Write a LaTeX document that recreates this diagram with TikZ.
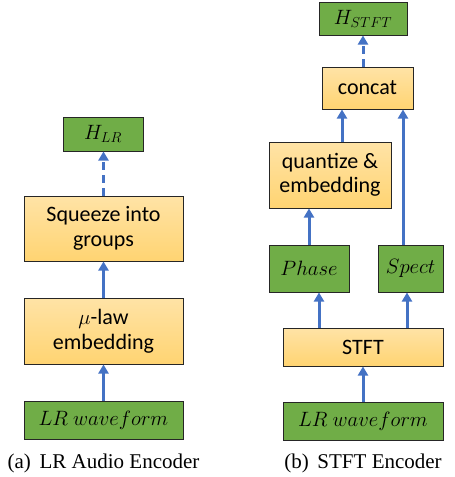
\documentclass[tikz,border=0pt]{standalone}
\usepackage{fontspec}
\setmainfont{Carlito}
\newfontfamily\capfont{Liberation Serif}
\usetikzlibrary{arrows.meta}
\definecolor{grn}{HTML}{70AD47}
\definecolor{orT}{HTML}{FFE3A6}
\definecolor{orB}{HTML}{FFD472}
\definecolor{arr}{HTML}{4472C4}
\definecolor{bord}{HTML}{262626}
\tikzset{
  gbox/.style={draw=bord, line width=1pt, fill=grn, inner sep=0pt, align=center, font=\fontsize{22.5}{25}\selectfont},
  obox/.style={draw=bord, line width=1pt, top color=orT, bottom color=orB, inner sep=0pt, align=center, font=\fontsize{22}{24.5}\selectfont},
  flow/.style={draw=arr, line width=3pt, -{Triangle[width=10pt,length=9pt]}},
  dflow/.style={flow, dash pattern=on 8pt off 5pt},
  captext/.style={font=\capfont\fontsize{21}{23}\selectfont}
}
\begin{document}
\begin{tikzpicture}[x=1pt,y=-1pt]
\useasboundingbox (0,0) rectangle (455,477);
% left
\node[gbox, minimum width=80pt, minimum height=34pt] (hlr) at (103,134) {$H_{LR}$};
\node[obox, minimum width=159pt, minimum height=65pt] (sq) at (103.5,228.5) {Squeeze into\\groups};
\node[obox, minimum width=159pt, minimum height=66pt] (mu) at (103.5,331) {$\mu$-law\\embedding};
\node[gbox, minimum width=159pt, minimum height=38pt] (lrwa) at (103.5,420) {$LR\ waveform$};
\node[captext] (capa) at (103.5,463) {(a)\ \,LR Audio Encoder};
\draw[flow] (lrwa.north) -- (mu.south);
\draw[flow] (mu.north) -- (sq.south);
\draw[dflow] (sq.north) -- (sq.north |- hlr.south);
% right
\node[gbox, minimum width=88pt, minimum height=33pt] (hst) at (363,18.5) {$H_{STFT}$};
\node[obox, minimum width=91pt, minimum height=42pt] (cc) at (367.5,88) {concat};
\node[obox, minimum width=122pt, minimum height=66pt] (qe) at (330,175) {quantize \&\\embedding};
\node[gbox, minimum width=80pt, minimum height=47pt] (ph) at (309,268.5) {$Phase$};
\node[gbox, minimum width=65pt, minimum height=47pt] (sp) at (410.5,268.5) {$Spect$};
\node[obox, minimum width=160pt, minimum height=38pt] (stft) at (363,347) {STFT};
\node[gbox, minimum width=160pt, minimum height=38pt] (lrwb) at (363,421) {$LR\ waveform$};
\node[captext] (capb) at (363,463) {(b)\ \,STFT Encoder};
\coordinate (xa) at (319,0);
\coordinate (xb) at (407,0);
\coordinate (xc) at (309,0);
\coordinate (xd) at (342,0);
\coordinate (xe) at (403,0);
\coordinate (xf) at (363,0);
\draw[flow] (lrwb.north) -- (stft.south);
\draw[flow] (stft.north -| xa) -- (ph.south -| xa);
\draw[flow] (stft.north -| xb) -- (sp.south -| xb);
\draw[flow] (ph.north -| xc) -- (qe.south -| xc);
\draw[flow] (qe.north -| xd) -- (cc.south -| xd);
\draw[flow] (sp.north -| xe) -- (cc.south -| xe);
\draw[dflow] (cc.north -| xf) -- (hst.south -| xf);
\end{tikzpicture}
\end{document}
